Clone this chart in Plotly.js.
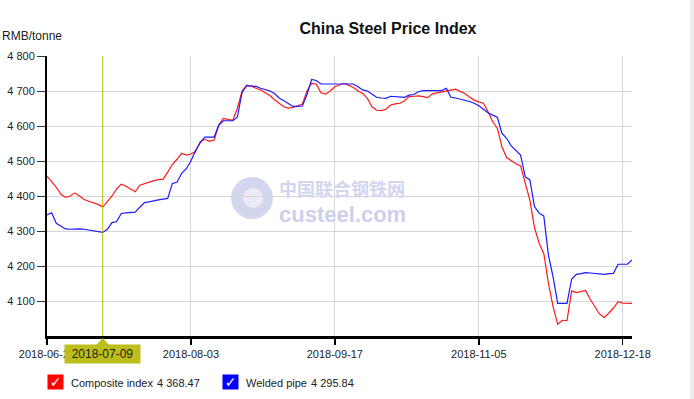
<!DOCTYPE html>
<html>
<head>
<meta charset="utf-8">
<script src="https://cdn.plot.ly/plotly-3.0.1.min.js"></script>
<style>
html,body{margin:0;padding:0;background:#fff;}
#chart{width:694px;height:399px;}
</style>
</head>
<body>
<div id="chart"></div>
<script>
// Trading days (category axis)
const dates = [
'2018-06-21','2018-06-22','2018-06-25','2018-06-26','2018-06-27','2018-06-28','2018-06-29',
'2018-07-02','2018-07-03','2018-07-04','2018-07-05','2018-07-06',
'2018-07-09','2018-07-10','2018-07-11','2018-07-12','2018-07-13',
'2018-07-16','2018-07-17','2018-07-18','2018-07-19','2018-07-20',
'2018-07-23','2018-07-24','2018-07-25','2018-07-26','2018-07-27',
'2018-07-30','2018-07-31','2018-08-01','2018-08-02','2018-08-03',
'2018-08-06','2018-08-07','2018-08-08','2018-08-09','2018-08-10',
'2018-08-13','2018-08-14','2018-08-15','2018-08-16','2018-08-17',
'2018-08-20','2018-08-21','2018-08-22','2018-08-23','2018-08-24',
'2018-08-27','2018-08-28','2018-08-29','2018-08-30','2018-08-31',
'2018-09-03','2018-09-04','2018-09-05','2018-09-06','2018-09-07',
'2018-09-10','2018-09-11','2018-09-12','2018-09-13','2018-09-14',
'2018-09-17','2018-09-18','2018-09-19','2018-09-20','2018-09-21',
'2018-09-25','2018-09-26','2018-09-27','2018-09-28','2018-09-29','2018-09-30',
'2018-10-08','2018-10-09','2018-10-10','2018-10-11','2018-10-12',
'2018-10-15','2018-10-16','2018-10-17','2018-10-18','2018-10-19',
'2018-10-22','2018-10-23','2018-10-24','2018-10-25','2018-10-26',
'2018-10-29','2018-10-30','2018-10-31','2018-11-01','2018-11-02',
'2018-11-05','2018-11-06','2018-11-07','2018-11-08','2018-11-09',
'2018-11-12','2018-11-13','2018-11-14','2018-11-15','2018-11-16',
'2018-11-19','2018-11-20','2018-11-21','2018-11-22','2018-11-23',
'2018-11-26','2018-11-27','2018-11-28','2018-11-29','2018-11-30',
'2018-12-03','2018-12-04','2018-12-05','2018-12-06','2018-12-07',
'2018-12-10','2018-12-11','2018-12-12','2018-12-13','2018-12-14',
'2018-12-17','2018-12-18','2018-12-19','2018-12-20'
];

const compositeIndex = [
4457,4442,4425,4405,4396,4400,4409,4400,4390,4385,
4381,4376,4368.47,4385,4400,4420,4434,4428,4420,4412,
4431,4436,4440,4444,4447,4448,4468,4490,4505,4522,
4517,4520,4527,4555,4562,4556,4560,4603,4622,4619,
4616,4650,4700,4717,4714,4708,4703,4695,4687,4675,
4665,4655,4651,4653,4658,4663,4700,4722,4720,4695,
4691,4700,4712,4717,4722,4716,4710,4700,4693,4679,
4655,4645,4644,4648,4660,4663,4665,4672,4684,4685,
4686,4684,4681,4692,4695,4697,4700,4703,4705,4699,
4693,4683,4674,4669,4665,4641,4612,4593,4540,4510,
4500,4492,4486,4433,4388,4310,4265,4236,4150,4084,
4034,4045,4044,4129,4124,4127,4130,4105,4083,4063,
4053,4065,4080,4098,4094,4093,4093
];

const weldedPipe = [
4346,4352,4322,4315,4306,4305,4306,4306,4305,4303,
4301,4298,4295.84,4305,4324,4327,4350,4352,4353,4354,
4368,4381,4383,4387,4389,4391,4393,4436,4439,4465,
4478,4500,4530,4552,4568,4568,4568,4603,4615,4615,
4615,4625,4695,4715,4714,4713,4708,4704,4700,4693,
4680,4672,4665,4656,4656,4657,4690,4733,4730,4720,
4720,4720,4720,4720,4720,4720,4720,4712,4703,4700,
4690,4682,4680,4679,4685,4684,4683,4682,4688,4690,
4698,4701,4701,4701,4701,4701,4708,4682,4680,4677,
4674,4670,4665,4658,4648,4638,4631,4625,4579,4565,
4543,4530,4517,4455,4446,4370,4351,4343,4231,4169,
4093,4093,4093,4163,4176,4178,4181,4180,4179,4176,
4176,4178,4179,4205,4205,4205,4217
];

const xTickVals = ['2018-06-21','2018-08-03','2018-09-17','2018-11-05','2018-12-18'];
const yTickVals = [4100,4200,4300,4400,4500,4600,4700,4800];
const yTickText = ['4 100','4 200','4 300','4 400','4 500','4 600','4 700','4 800'];
const seriesNames = ['Composite index','Welded pipe'];
const hoverDate = '2018-07-09';
const hoverValues = ['4 368.47','4 295.84'];

const FONT = 'Arial, "Liberation Sans", sans-serif';
const L = 47, T = 56, W = 585, H = 280;
const px = v => (v - L) / W;          // pixel x -> paper x
const py = v => (T + H - v) / H;      // pixel y -> paper y
const hoverIdx = dates.indexOf(hoverDate);

const traces = [
  {x: dates, y: compositeIndex, name: seriesNames[0], type: 'scatter', mode: 'lines',
   line: {color: '#ff1a1a', width: 1.2}, hoverinfo: 'skip'},
  {x: dates, y: weldedPipe, name: seriesNames[1], type: 'scatter', mode: 'lines',
   line: {color: '#1a1aff', width: 1.2}, hoverinfo: 'skip'}
];

const layout = {
  width: 694, height: 399,
  margin: {l: L, r: 694 - L - W, t: T, b: 399 - T - H, pad: 0},
  paper_bgcolor: '#ffffff', plot_bgcolor: '#ffffff',
  showlegend: false,
  hovermode: false,
  font: {family: FONT, size: 11, color: '#222'},
  title: {text: '<b>China Steel Price Index</b>', font: {family: FONT, size: 16, color: '#111'},
          x: px(388), xref: 'paper', xanchor: 'center', y: 1 - 28 / 399, yanchor: 'middle'},
  xaxis: {
    type: 'category', categoryorder: 'array', categoryarray: dates,
    range: [0, dates.length - 1],
    tickmode: 'array', tickvals: xTickVals, ticktext: xTickVals,
    ticks: 'outside', ticklen: 6, tickwidth: 1.5, tickcolor: '#000',
    showline: true, linecolor: '#000', linewidth: 3,
    showgrid: true, gridcolor: '#d6d6d6', gridwidth: 1,
    tickfont: {family: FONT, size: 11, color: '#222'},
    zeroline: false, fixedrange: true
  },
  yaxis: {
    range: [4000, 4800],
    tickmode: 'array', tickvals: yTickVals, ticktext: yTickText,
    ticks: 'outside', ticklen: 8, tickwidth: 1, tickcolor: '#333',
    showline: true, linecolor: '#000', linewidth: 2,
    showgrid: true, gridcolor: '#d6d6d6', gridwidth: 1,
    tickfont: {family: FONT, size: 11, color: '#222'},
    zeroline: false, fixedrange: true
  },
  shapes: [
    // watermark logo
    {type: 'circle', xref: 'paper', yref: 'paper', x0: px(231), x1: px(273), y0: py(219), y1: py(177),
     fillcolor: '#d3d6ef', line: {width: 0}, layer: 'below'},
    {type: 'circle', xref: 'paper', yref: 'paper', x0: px(243), x1: px(263), y0: py(208), y1: py(188),
     fillcolor: '#eceaf2', line: {width: 0}, layer: 'below'},
    // crosshair
    {type: 'line', xref: 'x', yref: 'paper', x0: hoverIdx, x1: hoverIdx, y0: 0, y1: 1,
     line: {color: '#b8b800', width: 1}},
    // tooltip pointer
    {type: 'path', xref: 'x', yref: 'paper',
     path: 'M ' + (hoverIdx - 1.6) + ' ' + py(346) + ' L ' + hoverIdx + ' ' + py(338) + ' L ' + (hoverIdx + 1.6) + ' ' + py(346) + ' Z',
     fillcolor: '#bdbd1c', line: {width: 0}},
    // page scrollbar strip
    {type: 'rect', xref: 'paper', yref: 'paper', x0: px(690), x1: px(694), y0: py(399), y1: py(0),
     fillcolor: '#ececec', line: {width: 0}}
  ],
  annotations: [
    {text: 'RMB/tonne', xref: 'paper', yref: 'paper', x: px(0), y: py(36), xanchor: 'left', yanchor: 'middle',
     showarrow: false, font: {family: FONT, size: 12, color: '#222'}},
    // watermark text
    {text: '<b>中国联合钢铁网</b>', xref: 'paper', yref: 'paper', x: px(342), y: py(188), xanchor: 'center', yanchor: 'middle',
     showarrow: false, font: {family: '"Noto Sans CJK SC", sans-serif', size: 18, color: '#d3d6ef'}},
    {text: '<b>custeel.com</b>', xref: 'paper', yref: 'paper', x: px(342), y: py(214), xanchor: 'center', yanchor: 'middle',
     showarrow: false, font: {family: FONT, size: 22, color: '#cdd0ec'}},
    // tooltip label
    {text: hoverDate, xref: 'x', yref: 'paper', x: hoverIdx, y: py(354), xanchor: 'center', yanchor: 'middle',
     showarrow: false, bgcolor: '#bdbd1c', width: 73, height: 16, borderpad: 1,
     font: {family: FONT, size: 12, color: '#222'}},
    // legend
    {text: '<b>✓</b>', xref: 'paper', yref: 'paper', x: px(55), y: py(382), xanchor: 'center', yanchor: 'middle',
     showarrow: false, bgcolor: '#ff0000', width: 15, height: 14, borderpad: 0,
     font: {family: '"DejaVu Sans", sans-serif', size: 14, color: '#ffffff'}},
    {text: seriesNames[0], xref: 'paper', yref: 'paper', x: px(69), y: py(383), xanchor: 'left', yanchor: 'middle',
     showarrow: false, font: {family: FONT, size: 11, color: '#222'}},
    {text: hoverValues[0], xref: 'paper', yref: 'paper', x: px(155), y: py(383), xanchor: 'left', yanchor: 'middle',
     showarrow: false, font: {family: FONT, size: 11, color: '#222'}},
    {text: '<b>✓</b>', xref: 'paper', yref: 'paper', x: px(230), y: py(382), xanchor: 'center', yanchor: 'middle',
     showarrow: false, bgcolor: '#0000ff', width: 15, height: 14, borderpad: 0,
     font: {family: '"DejaVu Sans", sans-serif', size: 14, color: '#ffffff'}},
    {text: seriesNames[1], xref: 'paper', yref: 'paper', x: px(244), y: py(383), xanchor: 'left', yanchor: 'middle',
     showarrow: false, font: {family: FONT, size: 11, color: '#222'}},
    {text: hoverValues[1], xref: 'paper', yref: 'paper', x: px(309), y: py(383), xanchor: 'left', yanchor: 'middle',
     showarrow: false, font: {family: FONT, size: 11, color: '#222'}}
  ]
};

Plotly.newPlot('chart', traces, layout, {displayModeBar: false, staticPlot: true});
</script>
</body>
</html>
